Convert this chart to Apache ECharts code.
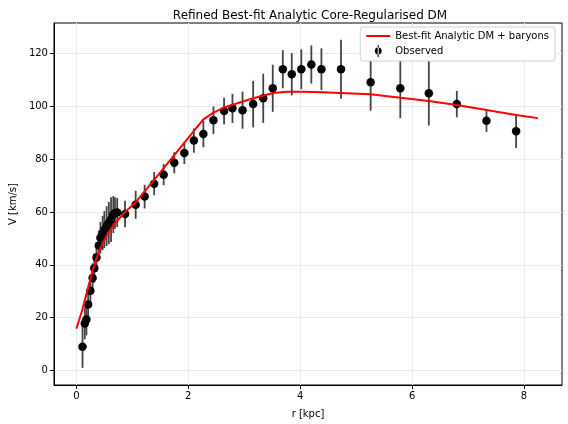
<!DOCTYPE html>
<html>
<head>
<meta charset="utf-8">
<script src="https://cdn.jsdelivr.net/npm/echarts@6/dist/echarts.min.js"></script>
<style>
  html, body { margin: 0; padding: 0; background: #fff; }
  #chart { width: 568px; height: 424px; }
</style>
</head>
<body>
<div id="chart"></div>
<script>
  // observed rotation curve
  const obsR = [0.11, 0.15, 0.18, 0.21, 0.25, 0.29, 0.32, 0.36, 0.40, 0.43, 0.47, 0.50, 0.54, 0.58, 0.62, 0.66, 0.69, 0.73,
    0.87, 1.06, 1.22, 1.39, 1.56, 1.75, 1.93, 2.10, 2.27, 2.45, 2.64, 2.79, 2.97, 3.16, 3.34, 3.51, 3.69, 3.85,
    4.02, 4.20, 4.38, 4.73, 5.26, 5.79, 6.30, 6.80, 7.33, 7.86]
  const obsV = [9.0, 17.8, 19.3, 25.0, 30.2, 35.0, 38.7, 42.8, 47.3, 50.2, 52.0, 53.3, 54.6, 55.8, 57.1, 59.0, 59.6, 59.8,
    59.2, 62.7, 65.8, 70.7, 74.1, 78.6, 82.3, 87.0, 89.5, 94.7, 98.2, 99.2, 98.5, 100.8, 103.0, 106.8, 114.0, 112.1,
    114.0, 115.8, 114.0, 114.0, 109.1, 106.8, 104.9, 100.8, 94.5, 90.5]
  const obsErr = [8, 6, 6, 6, 6, 5.5, 5.5, 5.5, 5.5, 6, 6.5, 7, 7.5, 8, 8.5, 7, 6, 5.5,
    5, 5.3, 4.5, 4.4, 4, 4, 4.2, 4.6, 5, 5.2, 5, 5.5, 7, 8.8, 9.3, 8.9, 7.2, 8,
    7.5, 7.2, 7.9, 11.2, 10.8, 11.3, 12.2, 5, 4.2, 6.3]

  // best-fit model curve
  const modelR = [0.0, 0.1, 0.2, 0.28, 0.4, 0.52, 0.65, 0.85, 1.06, 1.25, 1.5, 1.75, 2.0, 2.27, 2.45, 2.64,
    3.16, 3.52, 3.76, 4.05, 4.4, 4.93, 5.26, 5.79, 6.30, 6.80, 7.33, 7.86, 8.25]
  const modelV = [15.8, 22.5, 30.5, 37, 45, 50.2, 54.6, 59.6, 63.6, 68.5, 75, 81.5, 88, 95, 97.6, 99.5,
    103, 105, 105.5, 105.5, 105.3, 104.8, 104.5, 103.2, 102, 100.5, 98.6, 96.7, 95.5]

  const xTicks = [0, 2, 4, 6, 8]
  const yTicks = [0, 20, 40, 60, 80, 100, 120]

  const font = 'DejaVu Sans'
  const chart = echarts.init(document.getElementById('chart'))

  const errData = obsR.map((r, i) => [r, obsV[i] - obsErr[i], obsV[i] + obsErr[i]])

  chart.setOption({
    animation: false,
    textStyle: { fontFamily: font },
    title: {
      text: 'Refined Best-fit Analytic Core-Regularised DM',
      left: 305,
      top: 5,
      textAlign: 'center',
      textStyle: { fontSize: 12, fontWeight: 'normal', color: '#000', fontFamily: font },
    },
    legend: {
      orient: 'vertical',
      right: 13,
      top: 27,
      padding: [4, 6, 4, 6],
      itemGap: 4,
      itemWidth: 24,
      itemHeight: 12,
      backgroundColor: '#fff',
      borderColor: '#d0d0d0',
      borderWidth: 1,
      borderRadius: 3,
      textStyle: { fontSize: 10, color: '#000', fontFamily: font },
      data: [
        { name: 'Best-fit Analytic DM + baryons', icon: 'path://M0,5H24V7H0Z' },
        { name: 'Observed', icon: 'path://M4.4,0h1.2v14h-1.2z M5,3a4,4 0 1,0 0.001,0z' },
      ],
    },
    grid: {
      left: 47,
      right: 6,
      top: 23,
      bottom: 38,
      show: true,
      borderColor: '#000',
      borderWidth: 1,
      backgroundColor: 'transparent',
    },
    xAxis: {
      type: 'value',
      min: -0.4,
      max: 8.68,
      interval: 2,
      name: 'r [kpc]',
      nameLocation: 'middle',
      nameGap: 24,
      nameTextStyle: { fontSize: 10, color: '#000' },
      axisLine: { onZero: false, lineStyle: { color: '#000' } },
      axisTick: { length: 4, lineStyle: { color: '#000' }, customValues: xTicks },
      axisLabel: { fontSize: 10, color: '#000', margin: 6, customValues: xTicks },
      splitLine: { show: true, lineStyle: { color: '#ebebeb', width: 1 } },
    },
    yAxis: {
      type: 'value',
      min: -5.5,
      max: 131.5,
      interval: 20,
      name: 'V [km/s]',
      nameLocation: 'middle',
      nameGap: 30,
      nameTextStyle: { fontSize: 10, color: '#000' },
      axisLine: { show: true, onZero: false, lineStyle: { color: '#000' } },
      axisTick: { show: true, length: 4, lineStyle: { color: '#000' }, customValues: yTicks },
      axisLabel: { fontSize: 10, color: '#000', margin: 6, customValues: yTicks },
      splitLine: { show: true, lineStyle: { color: '#ebebeb', width: 1 } },
    },
    series: [
      {
        name: 'Observed-err',
        type: 'custom',
        data: errData,
        z: 2,
        renderItem: (params, api) => {
          const p0 = api.coord([api.value(0), api.value(1)])
          const p1 = api.coord([api.value(0), api.value(2)])
          return {
            type: 'line',
            shape: { x1: p0[0], y1: p0[1], x2: p1[0], y2: p1[1] },
            style: { stroke: '#444', lineWidth: 1.8 },
          }
        },
      },
      {
        name: 'Observed',
        type: 'scatter',
        data: obsR.map((r, i) => [r, obsV[i]]),
        symbolSize: 8.5,
        itemStyle: { color: '#000', opacity: 1 },
        z: 3,
      },
      {
        name: 'Best-fit Analytic DM + baryons',
        type: 'line',
        data: modelR.map((r, i) => [r, modelV[i]]),
        symbol: 'none',
        lineStyle: { color: '#ff0000', width: 2 },
        itemStyle: { color: '#ff0000' },
        z: 4,
      },
    ],
  })
</script>
</body>
</html>
